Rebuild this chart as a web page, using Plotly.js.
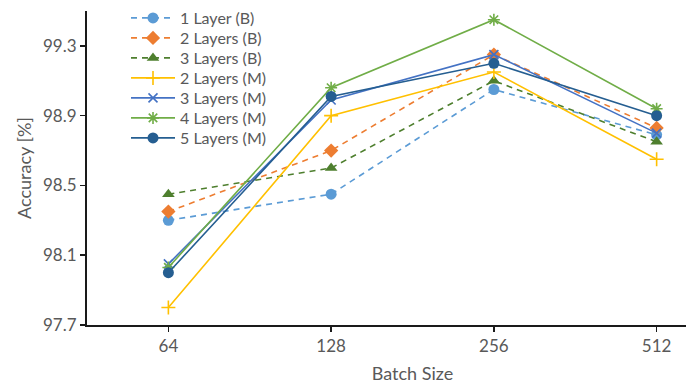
<!DOCTYPE html>
<html>
<head>
<meta charset="utf-8">
<script src="https://cdn.plot.ly/plotly-3.0.1.min.js"></script>
<style>
  html, body { margin: 0; padding: 0; overflow: hidden; background: #fff; }
  #chart { width: 740px; height: 387px; }
</style>
</head>
<body>
<div id="chart"></div>
<script>
// Batch sizes on the x axis
const batchSizes = ['64', '128', '256', '512'];

// Accuracy [%] per configuration
const layer1B  = [98.30, 98.45, 99.05, 98.79];
const layers2B = [98.35, 98.70, 99.25, 98.83];
const layers3B = [98.45, 98.60, 99.10, 98.75];
const layers2M = [97.80, 98.90, 99.15, 98.65];
const layers3M = [98.05, 98.99, 99.25, 98.80];
const layers4M = [98.03, 99.06, 99.45, 98.94];
const layers5M = [98.00, 99.01, 99.20, 98.90];

const seriesNames = ['1 Layer (B)', '2 Layers (B)', '3 Layers (B)',
                     '2 Layers (M)', '3 Layers (M)', '4 Layers (M)', '5 Layers (M)'];

const FONT = 'Lato, "Open Sans", sans-serif';
const GREY = '#595959';
const AXIS = '#1a1a1a';

// plot area in pixels (used to place the stacked legend rows)
const PLOT_TOP = 10, PLOT_H = 315, PLOT_L = 87, PLOT_W = 651;

function legendId(i) { return i === 0 ? 'legend' : 'legend' + (i + 1); }

function series(i, y, color, symbol, dashed, size) {
  const thin = symbol.indexOf('thin') >= 0 || symbol.indexOf('asterisk') >= 0;
  return {
    type: 'scatter',
    mode: 'lines+markers',
    name: seriesNames[i],
    legend: legendId(i),
    x: batchSizes,
    y: y,
    line: { color: color, width: 1.6, dash: dashed ? '6px,5px' : 'solid' },
    marker: {
      color: color,
      symbol: symbol,
      size: size,
      line: { color: color, width: thin ? 1.6 : 0 }
    }
  };
}

const traces = [
  series(0, layer1B,  '#5B9BD5', 'circle',      true, 11),
  series(1, layers2B, '#ED7D31', 'diamond',     true, 11),
  series(2, layers3B, '#4E7F2E', 'triangle-up', true, 11),
  series(3, layers2M, '#FFC000', 'cross-thin',  false, 10),
  series(4, layers3M, '#4472C4', 'x-thin',      false, 9),
  series(5, layers4M, '#70AD47', 'asterisk',    false, 10),
  series(6, layers5M, '#255E91', 'circle',      false, 11)
];

const layout = {
  width: 740,
  height: 387,
  margin: { l: PLOT_L, r: 2, t: PLOT_TOP, b: 62 },
  paper_bgcolor: '#fff',
  plot_bgcolor: '#fff',
  font: { family: FONT, size: 16, color: GREY },
  showlegend: true,
  xaxis: {
    type: 'category',
    range: [-0.5, 3.5],
    showline: true, linecolor: AXIS, linewidth: 2,
    ticks: 'outside', ticklen: 5, tickwidth: 1.5, tickcolor: AXIS,
    showgrid: false, zeroline: false,
    tickfont: { family: FONT, size: 17, color: GREY },
    title: { text: 'Batch Size', font: { family: FONT, size: 18, color: GREY }, standoff: 12 }
  },
  yaxis: {
    range: [97.7, 99.5],
    tick0: 97.7, dtick: 0.4,
    tickformat: '.1f',
    showline: true, linecolor: AXIS, linewidth: 2,
    ticks: 'outside', ticklen: 5, tickwidth: 1.5, tickcolor: AXIS,
    showgrid: false, zeroline: false,
    tickfont: { family: FONT, size: 17, color: GREY },
    title: { text: 'Accuracy [%]', font: { family: FONT, size: 18, color: GREY }, standoff: 7 }
  }
};

// one legend per row so the rows can sit 20px apart
seriesNames.forEach(function (name, i) {
  const rowY = 18 + 20 * i;
  layout[legendId(i)] = {
    x: (126 - PLOT_L) / PLOT_W,
    y: (PLOT_TOP + PLOT_H - rowY) / PLOT_H,
    xanchor: 'left', yanchor: 'middle',
    bgcolor: 'rgba(0,0,0,0)',
    borderwidth: 0,
    itemwidth: 44,
    font: { family: FONT, size: 16, color: GREY }
  };
});

Plotly.newPlot('chart', traces, layout, { displayModeBar: false, staticPlot: true });
</script>
</body>
</html>
